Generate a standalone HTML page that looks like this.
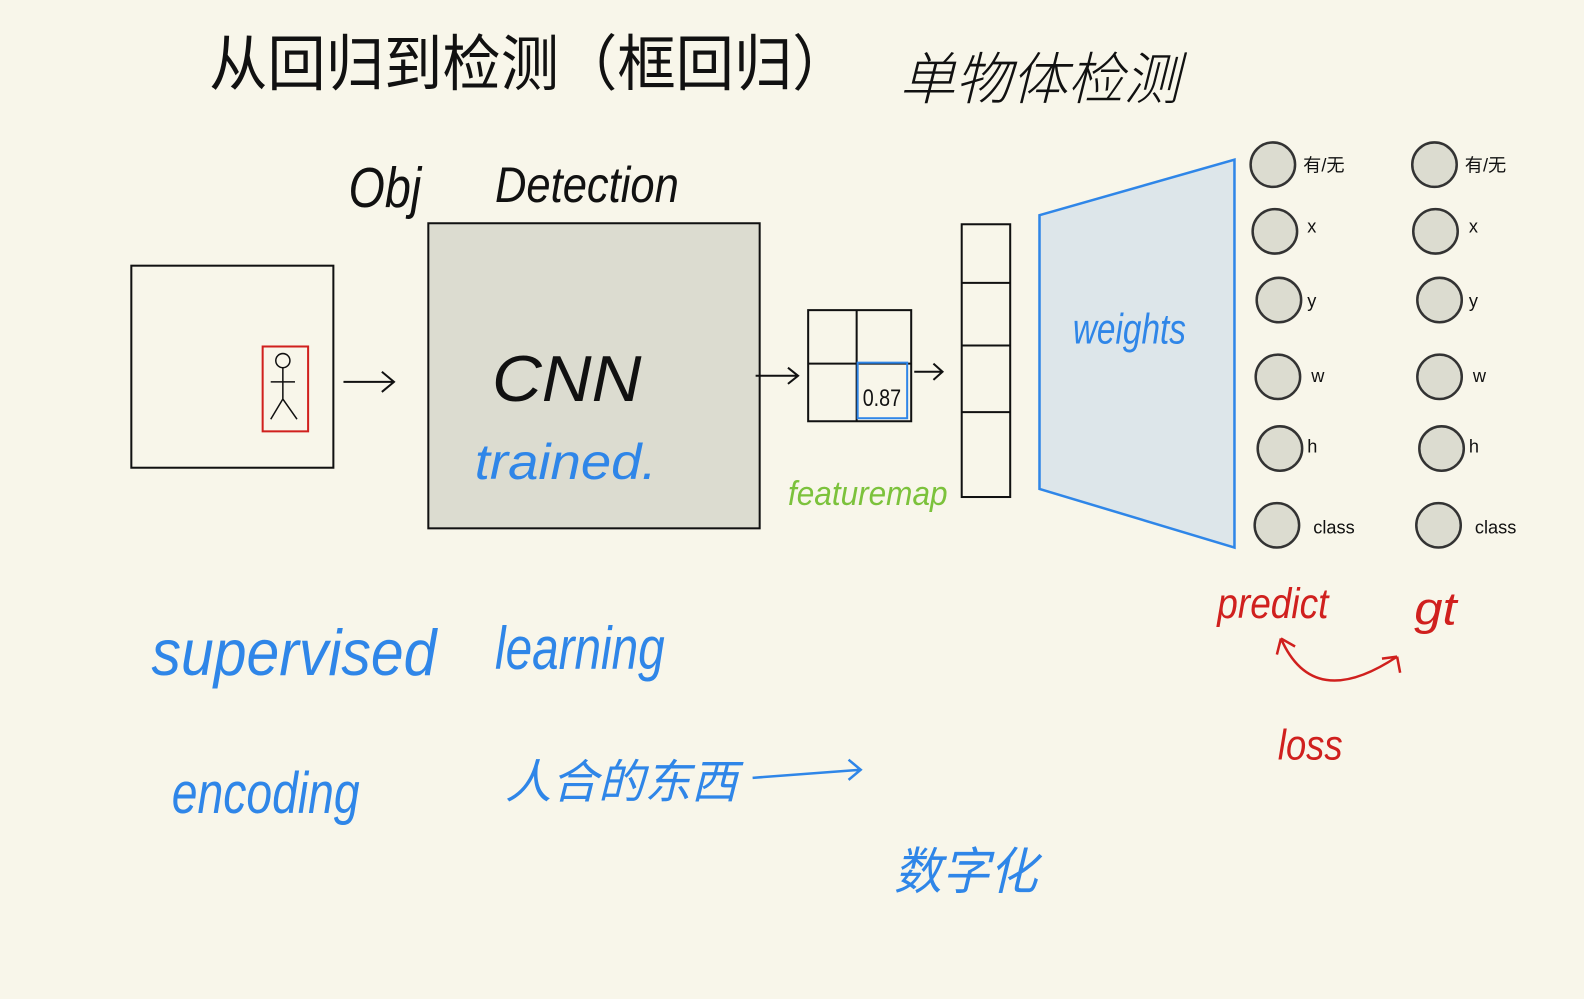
<!DOCTYPE html>
<html><head><meta charset="utf-8"><style>
html,body{margin:0;padding:0;background:#f8f6ea;}
svg{display:block}
text{font-family:"Liberation Sans","Noto Sans CJK SC",sans-serif;}
</style></head><body>
<svg width="1584" height="999" viewBox="0 0 1584 999" xmlns="http://www.w3.org/2000/svg">
<rect width="1584" height="999" fill="#f8f6ea"/>
<g transform="scale(1.0102)">
<text x="207" y="84" font-size="60" fill="#111" textLength="635" lengthAdjust="spacingAndGlyphs">从回归到检测（框回归）</text>
<text x="890" y="98" font-size="56" fill="#111" font-style="italic" textLength="278" lengthAdjust="spacingAndGlyphs" font-weight="300">单物体检测</text>
<text x="345" y="205" font-size="56" fill="#111" font-style="italic" textLength="72" lengthAdjust="spacingAndGlyphs">Obj</text>
<text x="490" y="200" font-size="50" fill="#111" font-style="italic" textLength="182" lengthAdjust="spacingAndGlyphs">Detection</text>
<rect x="130" y="263" width="200" height="200" fill="none" stroke="#111" stroke-width="2"/>
<rect x="260" y="343" width="45" height="84" fill="none" stroke="#d0201e" stroke-width="2"/>
<circle cx="280" cy="357" r="7" fill="none" stroke="#111" stroke-width="1.5"/>
<path d="M280 364 L280 395 M268 378 L292 378 M280 395 L268 415 M280 395 L294 415" stroke="#111" stroke-width="1.5" fill="none"/>
<path d="M340 378 L390 378 M378 368 L390 378 L378 388" stroke="#111" stroke-width="2" fill="none"/>
<rect x="424" y="221" width="328" height="302" fill="#dcdcd0" stroke="#111" stroke-width="2"/>
<text x="487" y="397" font-size="64" fill="#111" font-style="italic" textLength="148" lengthAdjust="spacingAndGlyphs">CNN</text>
<text x="470" y="474" font-size="50" fill="#2f86e8" font-style="italic" textLength="180" lengthAdjust="spacingAndGlyphs">trained.</text>
<path d="M748 372 L790 372 M780 364 L790 372 L780 380" stroke="#111" stroke-width="2" fill="none"/>
<rect x="800" y="307" width="102" height="110" fill="none" stroke="#111" stroke-width="2"/>
<path d="M848 307 L848 417 M800 360 L902 360" stroke="#111" stroke-width="2"/>
<rect x="849" y="359" width="49" height="55" fill="none" stroke="#2f86e8" stroke-width="2"/>
<text x="854" y="402" font-size="24" fill="#111" textLength="38" lengthAdjust="spacingAndGlyphs">0.87</text>
<path d="M905 368 L933 368 M924 360 L933 368 L924 376" stroke="#111" stroke-width="2" fill="none"/>
<text x="780" y="500" font-size="34" fill="#7cc23c" font-style="italic" textLength="158" lengthAdjust="spacingAndGlyphs">featuremap</text>
<rect x="952" y="222" width="48" height="270" fill="none" stroke="#111" stroke-width="2"/>
<path d="M952 280 L1000 280 M952 342 L1000 342 M952 408 L1000 408" stroke="#111" stroke-width="2"/>
<polygon points="1029,213 1222,158 1222,542 1029,484" fill="#dde6ea" stroke="#2f86e8" stroke-width="2.5"/>
<text x="1062" y="340" font-size="42" fill="#2f86e8" font-style="italic" textLength="112" lengthAdjust="spacingAndGlyphs">weights</text>
<g fill="#dcdcd0" stroke="#333" stroke-width="2.5">
<circle cx="1260" cy="163" r="22"/><circle cx="1262" cy="229" r="22"/><circle cx="1266" cy="297" r="22"/>
<circle cx="1265" cy="373" r="22"/><circle cx="1267" cy="444" r="22"/><circle cx="1264" cy="520" r="22"/>
<circle cx="1420" cy="163" r="22"/><circle cx="1421" cy="229" r="22"/><circle cx="1425" cy="297" r="22"/>
<circle cx="1425" cy="373" r="22"/><circle cx="1427" cy="444" r="22"/><circle cx="1424" cy="520" r="22"/>
</g>
<g font-size="18" fill="#111">
<text x="1290" y="170">有/无</text><text x="1294" y="230">x</text><text x="1294" y="304">y</text>
<text x="1298" y="378">w</text><text x="1294" y="448">h</text><text x="1300" y="528">class</text>
<text x="1450" y="170">有/无</text><text x="1454" y="230">x</text><text x="1454" y="304">y</text>
<text x="1458" y="378">w</text><text x="1454" y="448">h</text><text x="1460" y="528">class</text>
</g>
<text x="1205" y="612" font-size="42" fill="#d0201e" font-style="italic" textLength="110" lengthAdjust="spacingAndGlyphs">predict</text>
<text x="1400" y="618" font-size="46" fill="#d0201e" font-style="italic" textLength="42" lengthAdjust="spacingAndGlyphs">gt</text>
<path d="M1268 632 Q1300 705 1383 650 M1268 632 L1264 648 M1268 632 L1282 640 M1383 650 L1386 666 M1383 650 L1368 652" stroke="#d0201e" stroke-width="2.5" fill="none"/>
<text x="1265" y="752" font-size="42" fill="#d0201e" font-style="italic" textLength="64" lengthAdjust="spacingAndGlyphs">loss</text>
<text x="150" y="668" font-size="64" fill="#2f86e8" font-style="italic" textLength="282" lengthAdjust="spacingAndGlyphs">supervised</text>
<text x="490" y="662" font-size="60" fill="#2f86e8" font-style="italic" textLength="168" lengthAdjust="spacingAndGlyphs">learning</text>
<text x="170" y="805" font-size="58" fill="#2f86e8" font-style="italic" textLength="186" lengthAdjust="spacingAndGlyphs">encoding</text>
<text x="500" y="790" font-size="46" fill="#2f86e8" font-style="italic" textLength="230" lengthAdjust="spacingAndGlyphs">人合的东西</text>
<path d="M745 770 L852 762 M840 752 L852 762 L840 772" stroke="#2f86e8" stroke-width="2.5" fill="none"/>
<text x="885" y="880" font-size="50" fill="#2f86e8" font-style="italic" textLength="142" lengthAdjust="spacingAndGlyphs">数字化</text>
</g>
</svg>
</body></html>
